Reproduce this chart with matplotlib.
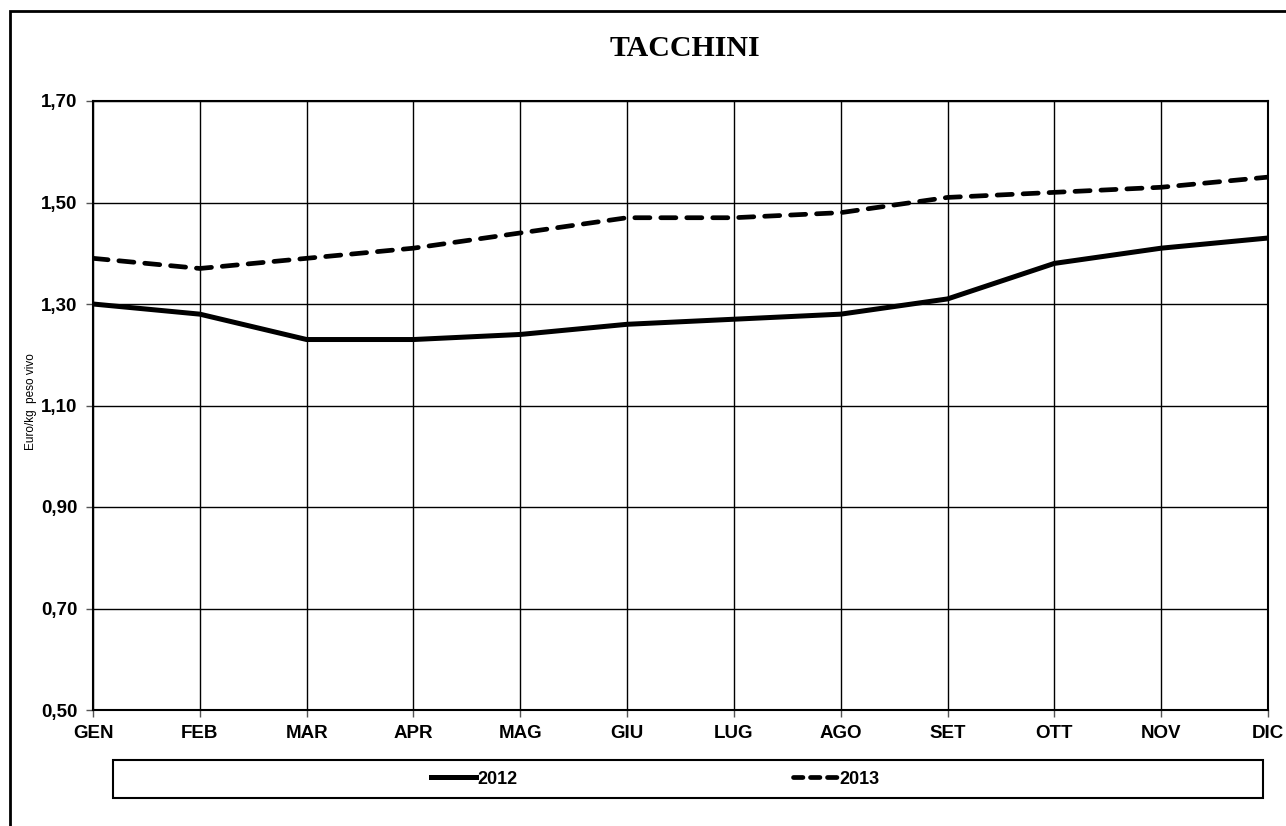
import matplotlib.pyplot as plt
from matplotlib.patches import Rectangle
from matplotlib.lines import Line2D

months = ['GEN', 'FEB', 'MAR', 'APR', 'MAG', 'GIU',
          'LUG', 'AGO', 'SET', 'OTT', 'NOV', 'DIC']
prezzi_2012 = [1.30, 1.28, 1.23, 1.23, 1.24, 1.26,
               1.27, 1.28, 1.31, 1.38, 1.41, 1.43]
prezzi_2013 = [1.39, 1.37, 1.39, 1.41, 1.44, 1.47,
               1.47, 1.48, 1.51, 1.52, 1.53, 1.55]
y_ticks = [0.50, 0.70, 0.90, 1.10, 1.30, 1.50, 1.70]

W, H = 1286, 826
fig = plt.figure(figsize=(W / 100, H / 100), dpi=100)

# plot area in pixels: x 93..1268, y 101..710
ax = fig.add_axes([93 / W, 1 - 710 / H, (1268 - 93) / W, (710 - 101) / H])

x = list(range(len(months)))
ax.plot(x, prezzi_2012, color='black', lw=3.6, solid_joinstyle='round',
        solid_capstyle='butt', zorder=3)
ax.plot(x, prezzi_2013, color='black', lw=3.4, dashes=(3.2, 2.3),
        dash_capstyle='round', zorder=3)

ax.set_xlim(0, len(months) - 1)
ax.set_ylim(0.50, 1.70)
ax.set_xticks(x)
ax.set_xticklabels(months)
ax.set_yticks(y_ticks)
ax.set_yticklabels([f'{v:.2f}'.replace('.', ',') for v in y_ticks])
ax.grid(True, color='black', lw=1.0)
ax.set_axisbelow(True)
for s in ax.spines.values():
    s.set_linewidth(1.5)
ax.tick_params(axis='both', length=5, width=1.0, color='#555555',
               labelsize=13.5)
ax.tick_params(axis='x', pad=6)
ax.tick_params(axis='y', pad=6)
for lab in ax.get_xticklabels() + ax.get_yticklabels():
    lab.set_fontfamily('Liberation Sans')
    lab.set_fontweight('bold')

ax.set_ylabel('Euro/kg  peso vivo', fontsize=8.5, family='Liberation Sans')
ax.yaxis.set_label_coords(-(93 - 37) / (1268 - 93), (710 - 402) / (710 - 101))

fig.text(685 / W, 1 - 49 / H, 'TACCHINI', ha='center', va='center',
         fontsize=21.5, fontweight='bold', family='Liberation Serif')

# outer frame (runs off the right and bottom edge)
fig.patches.append(Rectangle((10 / W, -0.05), 1.05, 1 - 11 / H + 0.05,
                             transform=fig.transFigure, fill=False,
                             lw=2, edgecolor='black'))
# legend box
fig.patches.append(Rectangle((113 / W, 1 - 798 / H), (1263 - 113) / W,
                             (798 - 760) / H, transform=fig.transFigure,
                             fill=False, lw=1.5, edgecolor='black'))

h1 = Line2D([], [], color='black', lw=3.6)
h2 = Line2D([], [], color='black', lw=3.4, dashes=(2.0, 1.6),
            dash_capstyle='round')
fig.legend([h1, h2], ['2012', '2013'], ncol=2, frameon=False,
           loc='center left', bbox_to_anchor=(431 / W, 1 - 779 / H),
           handlelength=2.5, handletextpad=0.05, columnspacing=15.3,
           prop={'family': 'Liberation Sans', 'weight': 'bold', 'size': 13},
           borderpad=0, borderaxespad=0)

fig.savefig('out.png', dpi=100)
